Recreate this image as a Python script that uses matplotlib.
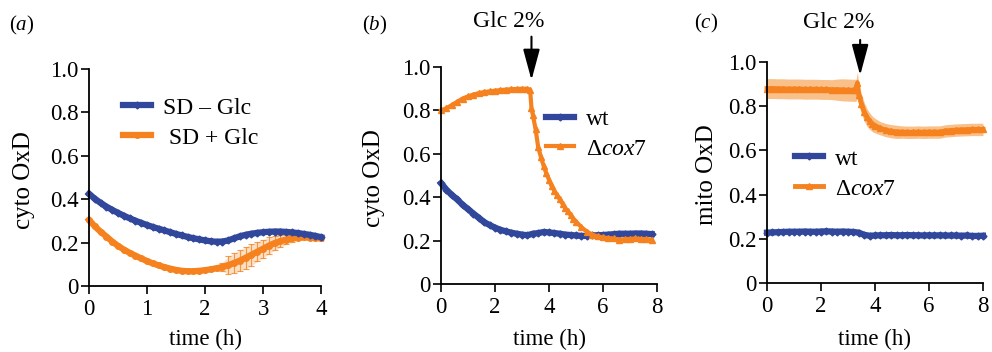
import numpy as np
import matplotlib
matplotlib.use("Agg")
import matplotlib.pyplot as plt

# ── data ──────────────────────────────────────────────────────────────────
# (a) cyto OxD, SD -/+ glucose
t_a = [0.0, 0.1, 0.2, 0.3, 0.4, 0.5, 0.6, 0.7, 0.8, 0.9,
       1.0, 1.1, 1.2, 1.3, 1.4, 1.5, 1.6, 1.7, 1.8, 1.9,
       2.0, 2.1, 2.2, 2.3, 2.4, 2.5, 2.6, 2.7, 2.8, 2.9,
       3.0, 3.1, 3.2, 3.3, 3.4, 3.5, 3.6, 3.7, 3.8, 3.9, 4.0]
sd_minus = [0.425, 0.402, 0.383, 0.366, 0.351, 0.337, 0.324, 0.312, 0.301, 0.291,
            0.281, 0.272, 0.264, 0.256, 0.248, 0.240, 0.233, 0.226, 0.220, 0.215,
            0.210, 0.206, 0.204, 0.205, 0.210, 0.220, 0.229, 0.236, 0.241, 0.245,
            0.248, 0.250, 0.251, 0.251, 0.249, 0.247, 0.244, 0.240, 0.236, 0.231, 0.225]
sd_plus = [0.305, 0.275, 0.250, 0.228, 0.205, 0.185, 0.168, 0.153, 0.140, 0.127,
           0.115, 0.104, 0.095, 0.087, 0.080, 0.074, 0.070, 0.068, 0.068, 0.070,
           0.073, 0.077, 0.082, 0.088, 0.096, 0.106, 0.117, 0.130, 0.144, 0.158,
           0.172, 0.186, 0.198, 0.207, 0.214, 0.219, 0.222, 0.224, 0.223, 0.221, 0.219]
sd_plus_err = [0, 0, 0, 0, 0, 0, 0, 0, 0, 0,
               0, 0, 0, 0, 0, 0, 0, 0, 0, 0,
               0, 0, 0.004, 0.02, 0.04, 0.045, 0.048, 0.05, 0.05, 0.045,
               0.042, 0.038, 0.034, 0.028, 0.022, 0.016, 0.010, 0.006, 0.003, 0, 0]

# (b) cyto OxD, wt vs cox7
t_b_wt = [0.0, 0.2, 0.4, 0.6, 0.8, 1.0, 1.2, 1.4, 1.6, 1.8,
          2.0, 2.2, 2.4, 2.6, 2.8, 3.0, 3.2, 3.4, 3.6, 3.8,
          4.0, 4.2, 4.4, 4.6, 4.8, 5.0, 5.2, 5.4, 5.6, 5.8,
          6.0, 6.2, 6.4, 6.6, 6.8, 7.0, 7.2, 7.4, 7.6, 7.8]
wt_b = [0.465, 0.435, 0.410, 0.390, 0.365, 0.345, 0.325, 0.305, 0.285, 0.272,
        0.260, 0.250, 0.243, 0.237, 0.232, 0.228, 0.225, 0.232, 0.235, 0.240,
        0.238, 0.235, 0.232, 0.228, 0.226, 0.224, 0.222, 0.222, 0.224, 0.225,
        0.226, 0.228, 0.230, 0.232, 0.232, 0.232, 0.233, 0.233, 0.232, 0.230]
t_b_cox = [0.0, 0.2, 0.4, 0.6, 0.8, 1.0, 1.2, 1.4, 1.6, 1.8,
           2.0, 2.2, 2.4, 2.6, 2.8, 3.0, 3.2, 3.3, 3.35, 3.4,
           3.5, 3.6, 3.7, 3.8, 3.9, 4.0, 4.1, 4.2, 4.3, 4.4,
           4.5, 4.6, 4.7, 4.8, 4.9, 5.0, 5.2, 5.4, 5.6, 5.8,
           6.0, 6.2, 6.4, 6.6, 6.8, 7.0, 7.2, 7.4, 7.6, 7.8]
cox_b = [0.800, 0.810, 0.825, 0.840, 0.855, 0.865, 0.873, 0.880, 0.885, 0.888,
         0.891, 0.894, 0.896, 0.898, 0.899, 0.900, 0.900, 0.895, 0.810, 0.780,
         0.715, 0.630, 0.585, 0.545, 0.510, 0.480, 0.450, 0.430, 0.410, 0.390,
         0.370, 0.350, 0.335, 0.318, 0.302, 0.288, 0.262, 0.242, 0.228, 0.220,
         0.215, 0.212, 0.210, 0.205, 0.207, 0.208, 0.210, 0.208, 0.207, 0.205]

# (c) mito OxD, wt vs cox7
t_c_wt = [0.0, 0.2, 0.4, 0.6, 0.8, 1.0, 1.2, 1.4, 1.6, 1.8,
          2.0, 2.2, 2.4, 2.6, 2.8, 3.0, 3.2, 3.4, 3.6, 3.8,
          4.0, 4.2, 4.4, 4.6, 4.8, 5.0, 5.2, 5.4, 5.6, 5.8,
          6.0, 6.2, 6.4, 6.6, 6.8, 7.0, 7.2, 7.4, 7.6, 7.8, 8.0]
wt_c = [0.228, 0.229, 0.230, 0.231, 0.232, 0.232, 0.232, 0.233, 0.232, 0.232,
        0.233, 0.234, 0.233, 0.232, 0.233, 0.232, 0.231, 0.228, 0.218, 0.214,
        0.215, 0.216, 0.216, 0.217, 0.216, 0.216, 0.217, 0.216, 0.216, 0.215,
        0.216, 0.215, 0.216, 0.215, 0.215, 0.215, 0.214, 0.215, 0.213, 0.213, 0.214]
t_c_cox = [0.0, 0.2, 0.4, 0.6, 0.8, 1.0, 1.2, 1.4, 1.6, 1.8,
           2.0, 2.2, 2.4, 2.6, 2.8, 3.0, 3.2, 3.3, 3.35, 3.4,
           3.5, 3.6, 3.7, 3.8, 3.9, 4.0, 4.2, 4.4, 4.6, 4.8,
           5.0, 5.2, 5.4, 5.6, 5.8, 6.0, 6.2, 6.4, 6.6, 6.8,
           7.0, 7.2, 7.4, 7.6, 7.8, 8.0]
cox_c = [0.880, 0.880, 0.879, 0.879, 0.878, 0.878, 0.878, 0.877, 0.877, 0.877,
         0.876, 0.876, 0.875, 0.875, 0.874, 0.873, 0.872, 0.872, 0.905, 0.850,
         0.810, 0.775, 0.750, 0.733, 0.720, 0.712, 0.700, 0.692, 0.687, 0.684,
         0.683, 0.682, 0.682, 0.683, 0.682, 0.683, 0.683, 0.683, 0.688, 0.690,
         0.692, 0.693, 0.694, 0.695, 0.695, 0.695]
cox_c_err = [0.045, 0.045, 0.045, 0.045, 0.045, 0.045, 0.045, 0.045, 0.045, 0.045,
             0.045, 0.045, 0.045, 0.048, 0.05, 0.05, 0.05, 0.05, 0.05, 0.045,
             0.045, 0.042, 0.04, 0.037, 0.035, 0.033, 0.03, 0.03, 0.03, 0.03,
             0.028, 0.028, 0.028, 0.028, 0.028, 0.028, 0.028, 0.028, 0.028, 0.028,
             0.028, 0.028, 0.028, 0.028, 0.028, 0.028]

GLC_TIME_B = 3.35
GLC_TIME_C = 3.45

BLUE = "#31479b"
ORANGE = "#f5821f"
LIGHT_ORANGE = "#f9c08a"

plt.rcParams.update({
    "font.family": "serif",
    "font.serif": ["Liberation Serif", "DejaVu Serif"],
    "mathtext.fontset": "custom",
    "mathtext.rm": "Liberation Serif",
    "mathtext.it": "Liberation Serif:italic",
    "axes.spines.top": False,
    "axes.spines.right": False,
    "axes.linewidth": 1.3,
    "xtick.major.width": 1.2,
    "ytick.major.width": 1.2,
    "xtick.major.size": 5.5,
    "ytick.major.size": 5.5,
    "xtick.labelsize": 16.5,
    "ytick.labelsize": 16.5,
})

fig = plt.figure(figsize=(9.92, 3.52), dpi=100)
ax_a = fig.add_axes([0.0897, 0.1875, 0.234, 0.6165])
ax_b = fig.add_axes([0.4446, 0.193, 0.2177, 0.6165])
ax_c = fig.add_axes([0.7732, 0.196, 0.2177, 0.6278])


def style_axis(ax, xmax, xticks, ylabel, ylab_x, xlab_y):
    ax.set_xlim(0, xmax)
    ax.set_ylim(0, 1.0)
    ax.set_xticks(xticks)
    ax.set_xticklabels([str(v) for v in xticks])
    ax.set_yticks([0, 0.2, 0.4, 0.6, 0.8, 1.0])
    ax.set_yticklabels(["0", "0.2", "0.4", "0.6", "0.8", "1.0"])
    ax.tick_params(axis="y", pad=2)
    ax.tick_params(axis="x", pad=4)
    ax.set_xlabel("time (h)", fontsize=16.5)
    ax.set_ylabel(ylabel, fontsize=18)
    ax.yaxis.set_label_coords(ylab_x, 0.49)
    ax.xaxis.set_label_coords(0.5, xlab_y)


def glc_arrow(ax, t, y_top, y_tip, text_x, text_y):
    ax.annotate("", xy=(t, y_tip), xytext=(t, y_top),
                arrowprops=dict(arrowstyle="-|>,head_length=1.0,head_width=0.27",
                                mutation_scale=19, lw=1.5, color="black",
                                shrinkA=0, shrinkB=0),
                annotation_clip=False)
    ax.text(text_x, text_y, "Glc 2%", fontsize=17, ha="center", va="center",
            clip_on=False)


LEG = dict(loc="upper left", frameon=False, fontsize=17, handlelength=1.2,
           handletextpad=0.5, numpoints=1, borderpad=0, borderaxespad=0,
           labelspacing=0.35)

# ── (a) ──────────────────────────────────────────────────────────────────
ax = ax_a
ax.fill_between(t_a, np.array(sd_plus) - np.array(sd_plus_err),
                np.array(sd_plus) + np.array(sd_plus_err),
                color=LIGHT_ORANGE, alpha=0.5, lw=0)
ax.errorbar(t_a, sd_plus, yerr=sd_plus_err, fmt="none", ecolor=ORANGE,
            elinewidth=0.8, capsize=2, capthick=0.8, alpha=0.8)
ax.plot(t_a, sd_plus, color=ORANGE, lw=4.5, marker="o", ms=4,
        label=" SD + Glc", clip_on=False)
ax.plot(t_a, sd_minus, color=BLUE, lw=4.5, marker="D", ms=3.5,
        label="SD – Glc", clip_on=False)
style_axis(ax, 4, [0, 1, 2, 3, 4], "cyto OxD", -0.233, -0.198)
h, l = ax.get_legend_handles_labels()
ax.legend(h[::-1], l[::-1], bbox_to_anchor=(0.145, 0.87), **LEG)

# ── (b) ──────────────────────────────────────────────────────────────────
ax = ax_b
ax.plot(t_b_wt, wt_b, color=BLUE, lw=4.5, marker="D", ms=3.5,
        label="wt", clip_on=False)
ax.plot(t_b_cox, cox_b, color=ORANGE, lw=3, marker="^", ms=5,
        label=r"Δ$cox7$", clip_on=False)
style_axis(ax, 8, [0, 2, 4, 6, 8], "cyto OxD", -0.259, -0.207)
ax.legend(bbox_to_anchor=(0.485, 0.81), **LEG)
glc_arrow(ax, GLC_TIME_B, 1.14, 0.94, 2.52, 1.21)

# ── (c) ──────────────────────────────────────────────────────────────────
ax = ax_c
ax.fill_between(t_c_cox, np.array(cox_c) - np.array(cox_c_err),
                np.array(cox_c) + np.array(cox_c_err),
                color=LIGHT_ORANGE, lw=0)
ax.plot(t_c_wt, wt_c, color=BLUE, lw=4.5, marker="D", ms=3.5,
        label="wt", clip_on=False)
ax.plot(t_c_cox, cox_c, color=ORANGE, lw=3.5, marker="^", ms=4,
        label=r"Δ$cox7$", clip_on=False)
style_axis(ax, 8, [0, 2, 4, 6, 8], "mito OxD", -0.225, -0.208)
ax.legend(bbox_to_anchor=(0.13, 0.61), **LEG)
glc_arrow(ax, GLC_TIME_C, 1.10, 0.94, 2.67, 1.18)

# panel letters
fig.text(0.022, 0.929, r"($a$)", fontsize=15, ha="center", va="center")
fig.text(0.378, 0.929, r"($b$)", fontsize=15, ha="center", va="center")
fig.text(0.712, 0.934, r"($c$)", fontsize=15, ha="center", va="center")

fig.savefig("out.png", dpi=100)
